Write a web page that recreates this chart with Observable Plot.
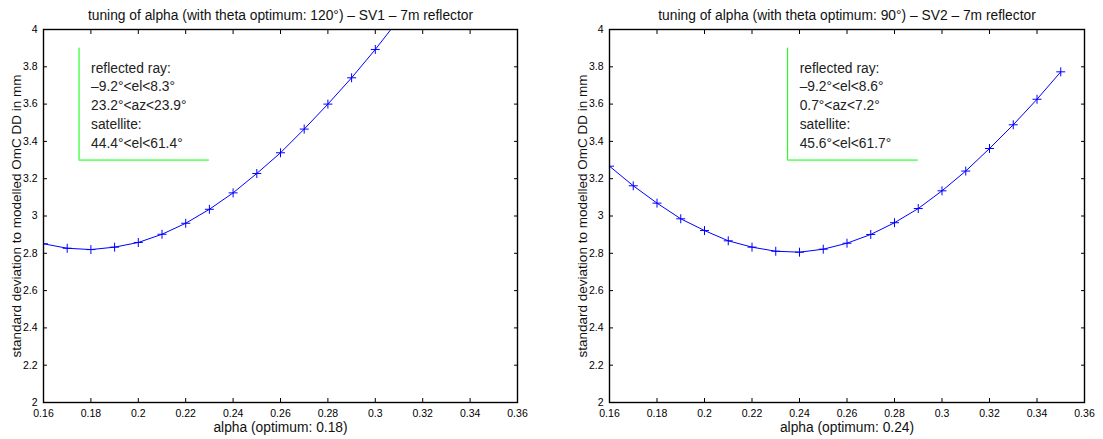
<!DOCTYPE html>
<html>
<head>
<meta charset="utf-8">
<script src="https://cdn.jsdelivr.net/npm/d3@7"></script>
<script src="https://cdn.jsdelivr.net/npm/@observablehq/plot@0.6"></script>
<style>
  html, body { margin: 0; padding: 0; background: #fff; }
  #wrap { position: relative; width: 1103px; height: 439px; }
  #left, #right { position: absolute; top: 0; }
  #left { left: 0; }
  #right { left: 551px; }
</style>
</head>
<body>
<div id="wrap"><div id="left"></div><div id="right"></div></div>
<script>
// ---- data ----
const alphaLeft = [0.16, 0.17, 0.18, 0.19, 0.20, 0.21, 0.22, 0.23, 0.24, 0.25, 0.26, 0.27, 0.28, 0.29, 0.30, 0.31];
const stdLeft   = [2.851, 2.827, 2.820, 2.833, 2.858, 2.902, 2.961, 3.036, 3.124, 3.228, 3.339, 3.466, 3.600, 3.741, 3.893, 4.056];

const alphaRight = [0.16, 0.17, 0.18, 0.19, 0.20, 0.21, 0.22, 0.23, 0.24, 0.25, 0.26, 0.27, 0.28, 0.29, 0.30, 0.31, 0.32, 0.33, 0.34, 0.35];
const stdRight   = [3.267, 3.162, 3.069, 2.985, 2.922, 2.867, 2.833, 2.811, 2.806, 2.822, 2.854, 2.901, 2.964, 3.040, 3.135, 3.241, 3.362, 3.489, 3.626, 3.773];

const xTicks = [0.16, 0.18, 0.20, 0.22, 0.24, 0.26, 0.28, 0.30, 0.32, 0.34, 0.36];
const yTicks = [2, 2.2, 2.4, 2.6, 2.8, 3, 3.2, 3.4, 3.6, 3.8, 4];

const titleLeft  = "tuning of alpha (with theta optimum: 120°) – SV1 – 7m reflector";
const titleRight = "tuning of alpha (with theta optimum: 90°) – SV2 – 7m reflector";
const xLabelLeft  = "alpha (optimum: 0.18)";
const xLabelRight = "alpha (optimum: 0.24)";
const yLabel = "standard deviation to modelled OmC DD in mm";

const legendLeft  = ["reflected ray:", "–9.2°<el<8.3°", "23.2°<az<23.9°", "satellite:", "44.4°<el<61.4°"];
const legendRight = ["reflected ray:", "–9.2°<el<8.6°", "0.7°<az<7.2°", "satellite:", "45.6°<el<61.7°"];
// legend box corners (data units): [xLeft, xRight, yTop, yBottom]
const legendBoxLeft  = [0.175, 0.23, 3.90, 3.30];
const legendBoxRight = [0.235, 0.29, 3.90, 3.30];

// ---- drawing ----
const FONT = "'Liberation Sans', Arial, Helvetica, sans-serif";
const fmt = d => String(+d.toFixed(2));

function makePlot(alphas, values, title, xLabel, legendLines, box, margins, width) {
  const data = alphas.map((a, i) => ({a, v: values[i]}));
  const [bx0, bx1, by0, by1] = box;
  return Plot.plot({
    width, height: 439,
    marginLeft: margins.left, marginRight: margins.right,
    marginTop: 29, marginBottom: 37,
    style: {fontFamily: FONT, background: "white", color: "black", overflow: "visible"},
    x: {domain: [0.16, 0.36]},
    y: {domain: [2, 4]},
    marks: [
      // axes: inward ticks on all four sides
      Plot.axisX({anchor: "bottom", ticks: xTicks, tickSize: -4, tickPadding: 11.5, tickFormat: fmt, fontSize: 10.5, label: null}),
      Plot.axisX({anchor: "top", ticks: xTicks, tickSize: -4, tickFormat: () => "", label: null}),
      Plot.axisY({anchor: "left", ticks: yTicks, tickSize: -4, tickPadding: 10, tickFormat: fmt, fontSize: 10.5, label: null}),
      Plot.axisY({anchor: "right", ticks: yTicks, tickSize: -4, tickFormat: () => "", label: null}),
      // legend box (left and bottom edges)
      Plot.ruleX([bx0], {y1: by1, y2: by0, stroke: "#00ff00", strokeWidth: 1}),
      Plot.ruleY([by1], {x1: bx0, x2: bx1, stroke: "#00ff00", strokeWidth: 1}),
      Plot.text([legendLines.join("\n")], {x: bx0, y: (by0 + by1) / 2, dx: 12, textAnchor: "start", lineAnchor: "middle", lineHeight: 1.36, fontSize: 13.8, fill: "#222"}),
      // data
      Plot.line(data, {x: "a", y: "v", stroke: "#0000ff", strokeWidth: 1, clip: true}),
      Plot.dot(data, {x: "a", y: "v", symbol: "plus", r: 3, stroke: "#0000ff", strokeWidth: 1, clip: true}),
      Plot.frame({stroke: "black", strokeWidth: 1.4}),
      // titles and labels
      Plot.text([title], {frameAnchor: "top", dy: -14, textAnchor: "middle", lineAnchor: "middle", fontSize: 13.8, fill: "#111"}),
      Plot.text([xLabel], {frameAnchor: "bottom", dy: 24.7, textAnchor: "middle", lineAnchor: "middle", fontSize: 13.8, fill: "#111"}),
      Plot.text([yLabel], {frameAnchor: "left", dx: margins.ylab, rotate: -90, textAnchor: "middle", lineAnchor: "middle", fontSize: 13.5, fill: "#111"})
    ]
  });
}

document.getElementById("left").appendChild(
  makePlot(alphaLeft, stdLeft, titleLeft, xLabelLeft, legendLeft, legendBoxLeft, {left: 43, right: 34, ylab: -26.8}, 551));
document.getElementById("right").appendChild(
  makePlot(alphaRight, stdRight, titleRight, xLabelRight, legendRight, legendBoxRight, {left: 58, right: 19, ylab: -27.3}, 552));
</script>
</body>
</html>
